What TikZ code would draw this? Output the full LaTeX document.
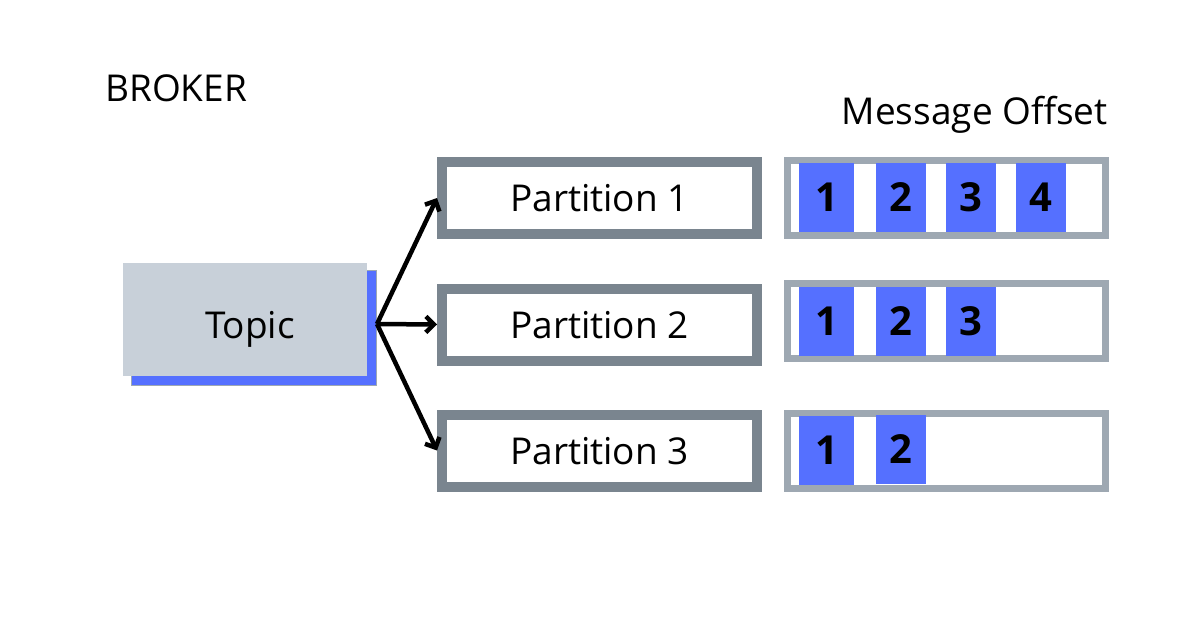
\documentclass[tikz,border=0pt]{standalone}
\usepackage{fontspec}
\setmainfont{Open Sans}
\usetikzlibrary{arrows.meta}
\definecolor{topicgray}{HTML}{C8D0D9}
\definecolor{msgblue}{HTML}{5570FF}
\definecolor{partborder}{HTML}{7A858F}
\definecolor{msgborder}{HTML}{9EA8B2}
\tikzset{
  bigfont/.style={font=\fontsize{37}{44}\selectfont},
  partbox/.style={draw=partborder, line width=10pt, fill=white, minimum width=315pt, minimum height=72pt, inner sep=0pt, bigfont, text height=27pt, text depth=0pt},
  msgbox/.style={draw=msgborder, line width=7pt, fill=white, minimum width=318pt, minimum height=75pt, inner sep=0pt},
  msg/.style={fill=msgblue, minimum width=50pt, minimum height=69pt, inner sep=0pt, font=\fontsize{40}{48}\selectfont\bfseries},
  conn/.style={line width=4.5pt, -{Straight Barb[length=8pt,width=16pt,line width=4.5pt]}},
  lbl/.style={bigfont, inner sep=0pt, text height=27pt, text depth=0pt}
}
\begin{document}
\begin{tikzpicture}[x=1pt,y=-1pt]
\useasboundingbox (0,0) rectangle (1200,640);
\node[lbl, anchor=west] (broker) at (105,88) {BROKER};
\node[lbl, anchor=east] (offset) at (1108,111) {Message Offset};
% topic
\node[fill=msgblue, draw=msgborder, line width=1pt, minimum width=245pt, minimum height=115pt, inner sep=0pt] (shadow) at (253.5,327.5) {};
\node[fill=topicgray, minimum width=244pt, minimum height=113pt, inner sep=0pt] (topicbox) at (245,319.5) {};
\node[lbl] (topic) at (250,324.5) {Topic};
\coordinate (fork) at (377,324);
% partitions
\node[partbox] (p1) at (599.5,198) {Partition 1};
\node[partbox] (p2) at (599.5,324.5) {Partition 2};
\node[partbox] (p3) at (599.5,450.5) {Partition 3};
\draw[conn] (fork) -- (p1.west);
\draw[conn] (fork) -- (p2.west);
\draw[conn] (fork) -- (p3.west);
% message rows
\node[msgbox] (m1) at (946.5,198) {};
\node[msgbox] (m2) at (946.5,320.5) {};
\node[msgbox] (m3) at (946.5,451) {};
\node[msg, minimum width=55pt] (a1) at (826.5,197.5) {1};
\node[msg] (a2) at (900.5,197.5) {2};
\node[msg] (a3) at (970.5,197.5) {3};
\node[msg] (a4) at (1040.5,197.5) {4};
\node[msg, minimum width=55pt] (b1) at (826.5,321.5) {1};
\node[msg] (b2) at (900.5,321.5) {2};
\node[msg] (b3) at (970.5,321.5) {3};
\node[msg, minimum width=55pt] (c1) at (826.5,450) {1};
\node[msg] (c2) at (900.5,449) {2};
\end{tikzpicture}
\end{document}
